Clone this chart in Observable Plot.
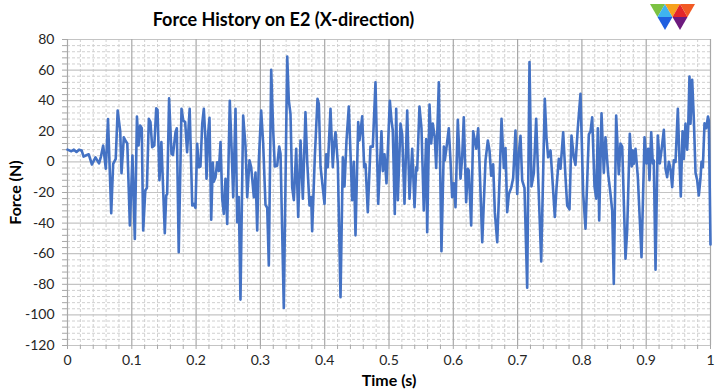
<!DOCTYPE html>
<html>
<head>
<meta charset="utf-8">
<script src="https://cdn.jsdelivr.net/npm/d3@7"></script>
<script src="https://cdn.jsdelivr.net/npm/@observablehq/plot@0.6"></script>
<style>
  html, body { margin: 0; padding: 0; background: #fff; }
  #wrap { position: relative; width: 720px; height: 389px; overflow: hidden; }
  #logo { position: absolute; left: 0; top: 0; }
</style>
</head>
<body>
<div id="wrap"></div>
<script>
const title = "Force History on E2 (X-direction)";
const xLabel = "Time (s)";
const yLabel = "Force (N)";

const xTicks = [0, 0.1, 0.2, 0.3, 0.4, 0.5, 0.6, 0.7, 0.8, 0.9, 1];
const xTickLabels = ["0", "0.1", "0.2", "0.3", "0.4", "0.5", "0.6", "0.7", "0.8", "0.9", "1"];
const yTicks = [-120, -100, -80, -60, -40, -20, 0, 20, 40, 60, 80];

const time = [
  0, 0.006, 0.01, 0.014, 0.018, 0.022, 0.025, 0.033, 0.038, 0.0435, 0.049, 0.052, 0.0555, 0.0596, 0.063, 0.068, 0.071, 0.075, 0.078, 0.082,
  0.084, 0.0876, 0.090, 0.093, 0.097, 0.101, 0.1047, 0.108, 0.1105, 0.113, 0.1155, 0.1177, 0.121, 0.1235, 0.1265, 0.129, 0.1317, 0.135, 0.138, 0.140,
  0.143, 0.146, 0.1513, 0.1535, 0.155, 0.158, 0.1617, 0.164, 0.168, 0.170, 0.173, 0.1773, 0.180, 0.183, 0.186, 0.190, 0.194, 0.1965, 0.199, 0.2017,
  0.2042, 0.2068, 0.2095, 0.212, 0.2146, 0.2162, 0.2188, 0.2208, 0.2235, 0.226, 0.2275, 0.2302, 0.2328, 0.2353, 0.238, 0.2406, 0.2431, 0.2457, 0.2484, 0.2524,
  0.255, 0.2577, 0.2613, 0.2639, 0.2664, 0.269, 0.2732, 0.2768, 0.2795, 0.283, 0.2857, 0.2898, 0.2924, 0.295, 0.2975, 0.3012, 0.3043, 0.3079, 0.3106, 0.3131,
  0.3168, 0.3199, 0.3224, 0.3261, 0.3292, 0.3313, 0.3364, 0.3417, 0.3442, 0.3468, 0.3494, 0.352, 0.3557, 0.3588, 0.3624, 0.366, 0.3701, 0.3727, 0.3764, 0.379,
  0.3805, 0.3846, 0.3888, 0.3909, 0.3935, 0.3997, 0.4023, 0.4048, 0.409, 0.4126, 0.4147, 0.4168, 0.4204, 0.4246, 0.4282, 0.4308, 0.4339, 0.4375, 0.4412, 0.4427,
  0.4453, 0.4479, 0.4521, 0.4541, 0.4583, 0.4614, 0.4635, 0.467, 0.4712, 0.4748, 0.479, 0.4832, 0.4883, 0.4904, 0.493, 0.4961, 0.5013, 0.5039, 0.5059, 0.509,
  0.5112, 0.5137, 0.5179, 0.5205, 0.5241, 0.5283, 0.5319, 0.5361, 0.5397, 0.5423, 0.5438, 0.5474, 0.5505, 0.5541, 0.5578, 0.5594, 0.563, 0.5656, 0.5681, 0.5712,
  0.5734, 0.5775, 0.5816, 0.5853, 0.5868, 0.5889, 0.593, 0.5956, 0.5982, 0.6008, 0.6034, 0.607, 0.6112, 0.6138, 0.6163, 0.62, 0.6226, 0.6241, 0.6278, 0.6309,
  0.6335, 0.6356, 0.6387, 0.6407, 0.645, 0.6501, 0.6537, 0.6563, 0.6589, 0.662, 0.6646, 0.6683, 0.6719, 0.675, 0.6786, 0.6812, 0.6838, 0.6864, 0.69, 0.6931,
  0.6967, 0.6994, 0.7019, 0.7045, 0.7071, 0.7107, 0.7149, 0.7185, 0.7216, 0.7252, 0.7289, 0.732, 0.7367, 0.7423, 0.7449, 0.7475, 0.7512, 0.7538, 0.7579, 0.7605,
  0.7641, 0.7667, 0.7709, 0.7745, 0.7771, 0.7807, 0.7838, 0.7874, 0.79, 0.7936, 0.7978, 0.802, 0.8056, 0.8108, 0.8134, 0.816, 0.8196, 0.8222, 0.8248, 0.8269,
  0.8305, 0.8341, 0.8367, 0.8409, 0.8445, 0.8471, 0.8496, 0.8533, 0.8574, 0.86, 0.8627, 0.8678, 0.8704, 0.8745, 0.8775, 0.8792, 0.8807, 0.8834, 0.887, 0.8901,
  0.8927, 0.8974, 0.9005, 0.9031, 0.9051, 0.9078, 0.9103, 0.9118, 0.9145, 0.918, 0.9212, 0.9238, 0.9274, 0.93, 0.9326, 0.9352, 0.9378, 0.9404, 0.9429, 0.9456,
  0.9492, 0.9518, 0.9538, 0.9565, 0.9585, 0.9611, 0.9637, 0.9653, 0.9673, 0.9689, 0.9715, 0.974, 0.9767, 0.9793, 0.9818, 0.9844, 0.986, 0.9881, 0.9907, 0.9933,
  0.9961, 0.9974, 1.0
];

const force = [
  8, 7, 8, 6.5, 8, 7.5, 3.5, 5, -1.7, 3, -1, 3.5, 10.7, -4.5, 28, -33.5, -1.3, 2, 33.6, 20,
  -7.4, 16, 14, 12, -41.6, 4.2, -50.3, 29.7, 10.7, 23.8, 22, -44.8, -18.7, -17, 28.2, 26, 9.6, 10.7, 35, 34,
  -12, 13, -46.6, -22, -21, 41.6, 5.3, 4.5, 19.4, 22, -59, 34.7, 27, 26, 6.3, 34.7, -28.5, -27.5, -30, 11.8,
  -3.5, -3, 24.9, 34.7, 14, -11, 19, 28.8, -37.8, -0.5, -13, -10, -0.2, -6, 13, -24, -34, -11, -40.5, 40,
  10.7, -23, 34.7, -39.4, -23, -90, 30.3, 10.5, -23, 1, -3.5, -23, -7, -44.8, 0, 33.6, 12, -28, -30, -67.7,
  60.2, 20.5, -3, -2.5, 10, 5.3, -95.4, 68.9, 40, 31.4, -16.5, -25, 8.6, -36, 14, -24, 32.5, 0.9, -28.5, -23,
  -45.3, 3, 41.2, 38, -3, -27.4, 5, -3.5, 34.7, -3.5, 12, 19.4, -1, -88.4, 3, -16, 14, 36.2, -7, -25,
  0, -48, 26, 14, 29.8, -3.5, -1.5, -32.9, 10, 10, 52.1, -27.4, 20, -6, 5, -14, 40, 27, 20.5, -34,
  34.7, -25, 25, 18, -27.4, 33.6, -24, 8.6, -29.6, -3.5, -5.6, 36.2, 22, -31.8, 15, -46, 37.5, 12, 25, 16,
  -4, 52.1, -58.4, 10, 1, 7.5, 22, 1, -23, -14, -29.6, 27.5, -11, 3, 29.2, -26.3, -4.5, -5.6, -41.6, 20,
  14, 8.6, 22, 0, -52.5, 1, 14, 7.5, -9, -1.5, -33, -52.5, -12, 28.2, -4, 9, -32.9, -21, -17, -10.5,
  20.5, -21, 6, 17, -12, -17, -82.3, 65.2, -16, -7.5, 28.2, -10, -65, 41.2, 16, 3, 7.5, -9, -36, -17,
  2, -4.5, 19.4, -10, -28.5, -31, 17.3, 3, -2, 22, 44.5, -21, -43.7, 18, 20, 29.2, -16, -24, 22, -38.3,
  31.8, -7, 16, -8, -21, -31.8, -79.7, 30.3, -8, 12, 10, -63.3, -44.8, 18.3, -3, 7.5, -1.3, 8.6, -10, -38.3,
  -62.3, 16, -1, 8.6, -12, 19.4, -1, 1, -70.5, 17.3, -1, 7.5, 21, -4.5, -10, 0, -4.5, -16.5, 1, 0,
  34.7, 0, -22.6, 20, 2, 25, 8, 22, 55.8, 25, 53.7, 29, -7, -12, -22, -11, 0, -3.5, 25.3, 22,
  29.7, 27, -54
];

const data = time.map((t, i) => ({t, f: force[i]}));

// grid positions derived from tick arrays
const minorX = d3.range(0, 51).map(i => i / 50).filter(v => Math.abs(v * 10 - Math.round(v * 10)) > 1e-6);
const minorY = d3.range(-120, 81, 4).filter(v => v % 20 !== 0);
const allXTicks = d3.range(0, 51).map(i => i / 50);
const allYTicks = d3.range(-120, 81, 4);

const chart = Plot.plot({
  width: 720,
  height: 389,
  marginLeft: 67,
  marginRight: 10,
  marginTop: 39,
  marginBottom: 44,
  style: {fontFamily: "Lato, 'Open Sans', sans-serif", fontSize: "14px", color: "#262626", background: "#fff"},
  x: {domain: [0, 1], label: null},
  y: {domain: [-120, 80], label: null},
  marks: [
    Plot.ruleX(minorX, {stroke: "#d0d0d0", strokeDasharray: "3,2", strokeWidth: 1}),
    Plot.ruleY(minorY, {stroke: "#d0d0d0", strokeDasharray: "3,2", strokeWidth: 1}),
    Plot.ruleY(yTicks, {stroke: "#c4c4c4", strokeWidth: 1.2}),
    Plot.ruleX(xTicks, {stroke: "#a8a8a8", strokeWidth: 1.2}),
    Plot.axisY({ticks: allYTicks, tickSize: 5, tickFormat: () => "", stroke: "#a8a8a8", label: null}),
    Plot.axisY({ticks: yTicks, tickSize: 0, tickPadding: 13, tickFormat: d => String(d), fontSize: 14, label: null}),
    Plot.axisX({ticks: allXTicks, tickSize: 4, tickFormat: () => "", stroke: "#a8a8a8", label: null}),
    Plot.axisX({ticks: xTicks, tickSize: 0, tickPadding: 10, tickFormat: d => xTickLabels[xTicks.indexOf(d)], fontSize: 14, label: null}),
    Plot.line(data, {x: "t", y: "f", stroke: "#4472C4", strokeWidth: 2.6, strokeLinejoin: "round"}),
    Plot.text([yLabel], {frameAnchor: "left", rotate: -90, dx: -52, textAnchor: "middle", lineAnchor: "middle", fontWeight: "bold", fontSize: 16, fill: "#000"}),
    Plot.text([xLabel], {frameAnchor: "bottom", dy: 35, textAnchor: "middle", lineAnchor: "middle", fontWeight: "bold", fontSize: 16, fill: "#000"}),
    Plot.text([title], {frameAnchor: "top-left", dx: 216, dy: -19, textAnchor: "middle", lineAnchor: "middle", fontWeight: "bold", fontSize: 18, fill: "#000"})
  ]
});

const wrap = document.getElementById("wrap");
wrap.appendChild(chart);

// decorative logo (not data)
const ns = "http://www.w3.org/2000/svg";
const logo = document.createElementNS(ns, "svg");
logo.setAttribute("id", "logo");
logo.setAttribute("width", "720");
logo.setAttribute("height", "40");
const tris = [
  ["650,4 665,4 657.5,17", "#7cc242"],
  ["657.5,17 665,4 672.5,17", "#3fb3f0"],
  ["665,4 680,4 672.5,17", "#f7a11d"],
  ["672.5,17 680,4 687.5,17", "#e4262a"],
  ["680,4 695,4 687.5,17", "#f15a24"],
  ["657.5,17 672.5,17 665,30", "#1f5fe0"],
  ["672.5,17 687.5,17 680,30", "#6d1a7e"]
];
for (const [pts, col] of tris) {
  const p = document.createElementNS(ns, "polygon");
  p.setAttribute("points", pts);
  p.setAttribute("fill", col);
  logo.appendChild(p);
}
wrap.appendChild(logo);
</script>
</body>
</html>
